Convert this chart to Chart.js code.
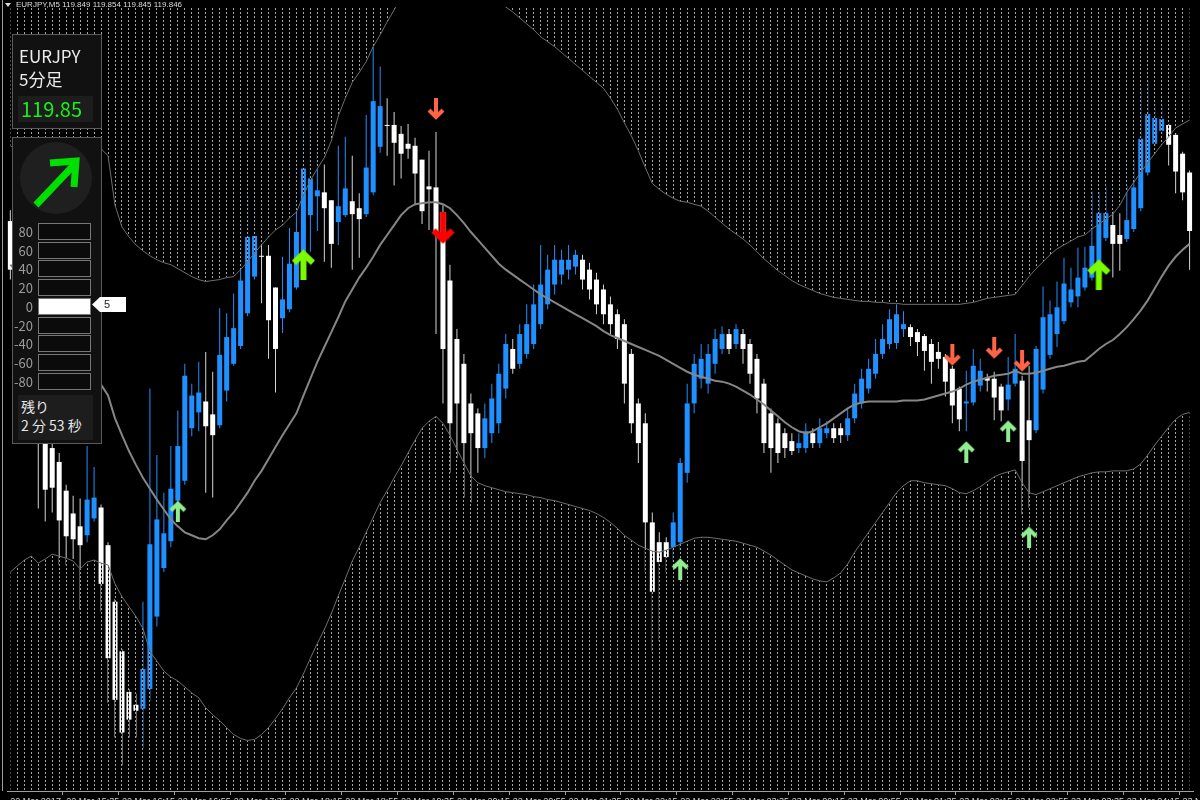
<!DOCTYPE html>
<html>
<head>
<meta charset="utf-8">
<script src="https://cdn.jsdelivr.net/npm/chart.js@4.4.1/dist/chart.umd.min.js"></script>
<style>
body { margin:0; background:#000; overflow:hidden; font-family:'Noto Sans CJK JP', sans-serif; }
#wrap { position:absolute; left:0; top:0; width:1200px; height:808px; }
.abs { position:absolute; }
.frame { left:2px; top:0; width:1px; height:791px; background:#9c9c9c; }
#head { left:16px; top:0; color:#dcdcdc; font:8px/10px 'Liberation Sans', sans-serif; white-space:pre; }
.tri { left:5px; top:3px; width:0; height:0; border-left:3px solid transparent; border-right:3px solid transparent; border-top:4px solid #dcdcdc; }
.box { background:#111; border:1px solid #5a5a5a; box-sizing:border-box; }
.row { left:38px; width:53px; height:17px; border:1px solid #777; box-sizing:border-box; background:#0b0b0b; }
.lbl { left:0; width:33px; text-align:right; font-size:13px; line-height:17px; color:#9b9b9b; }
</style>
</head>
<body>
<div id="wrap"><canvas id="c"></canvas></div>
<div class="abs frame"></div>
<div class="abs tri"></div>
<div class="abs" id="head">EURJPY,M5 119.849 119.854 119.845 119.846</div>

<div class="abs box" style="left:12px;top:34px;width:90px;height:95px;"></div>
<div class="abs" style="left:19px;top:44px;font-size:17px;line-height:23px;color:#ececec;">EURJPY<br>5分足</div>
<div class="abs" style="left:18px;top:96px;width:75px;height:26px;background:#1d1d1d;"></div>
<div class="abs" style="left:21px;top:95px;font-size:20px;line-height:27px;color:#18f018;">119.85</div>

<div class="abs box" style="left:12px;top:137px;width:90px;height:307px;"></div>
<div class="abs" style="left:20px;top:142px;width:72px;height:72px;border-radius:50%;background:#1f1f1f;"></div>
<svg class="abs" style="left:0;top:0" width="130" height="450">
  <line x1="36" y1="205" x2="73" y2="166" stroke="#00e000" stroke-width="7"/>
  <polyline points="50,163 76,161 74,187" fill="none" stroke="#00e000" stroke-width="7" stroke-linejoin="miter"/>
</svg>
<div id="gauge"></div>
<div class="abs" style="left:92px;top:297px;width:34px;height:15px;background:#fff;clip-path:polygon(0 50%,8px 0,100% 0,100% 100%,8px 100%);"></div>
<div class="abs" style="left:104px;top:297px;font:11px/15px 'Liberation Sans',sans-serif;color:#222;">5</div>
<div class="abs" style="left:18px;top:395px;width:75px;height:45px;background:#1d1d1d;"></div>
<div class="abs" style="left:21px;top:397px;font-size:14px;line-height:19px;color:#e6e6e6;">残り<br>2 分 53 秒</div>

<script>
// time labels every 8 bars (40 min)
const tickLabels = ['22 Mar 2017','22 Mar 15:35','22 Mar 16:15','22 Mar 16:55','22 Mar 17:35','22 Mar 18:15','22 Mar 18:55',
  '22 Mar 19:35','22 Mar 20:15','22 Mar 20:55','22 Mar 21:35','22 Mar 22:15','22 Mar 22:55','22 Mar 23:35',
  '23 Mar 00:15','23 Mar 00:55','23 Mar 01:35','23 Mar 02:15','23 Mar 02:55','23 Mar 03:35','23 Mar 04:15','23 Mar 04:55'];

const open = [119.856,119.819,119.782,119.727,119.677,119.642,119.627,119.613,119.584,119.561,
119.548,119.539,119.556,119.567,119.529,119.472,119.422,119.381,119.368,119.364,
119.384,119.457,119.506,119.533,119.574,119.594,119.647,119.663,119.674,119.661,
119.650,119.685,119.712,119.730,119.763,119.800,119.821,119.821,119.789,119.758,
119.767,119.789,119.825,119.862,119.881,119.885,119.877,119.855,119.862,119.876,
119.869,119.863,119.885,119.931,119.953,119.953,119.944,119.934,119.932,119.918,
119.891,119.890,119.865,119.796,119.737,119.712,119.672,119.662,119.627,119.642,
119.652,119.687,119.727,119.712,119.722,119.732,119.752,119.772,119.792,119.802,
119.807,119.810,119.817,119.807,119.797,119.787,119.772,119.762,119.752,119.722,
119.672,119.652,119.552,119.532,119.532,119.527,119.532,119.602,119.672,119.697,
119.692,119.712,119.727,119.742,119.732,119.742,119.732,119.717,119.692,119.662,
119.652,119.642,119.634,119.627,119.627,119.642,119.632,119.642,119.647,119.647,
119.640,119.657,119.672,119.687,119.702,119.722,119.732,119.733,119.747,119.749,
119.744,119.740,119.732,119.724,119.719,119.707,119.687,119.672,119.673,119.690,
119.698,119.697,119.689,119.676,119.692,119.695,119.655,119.645,119.686,119.721,
119.742,119.755,119.774,119.780,119.789,119.799,119.802,119.839,119.852,119.842,
119.838,119.848,119.869,119.905,119.934,119.947,119.953,119.943,119.924,119.905];

const high = [119.867,119.827,119.790,119.734,119.684,119.647,119.634,119.622,119.590,119.579,
119.576,119.629,119.608,119.570,119.532,119.475,119.424,119.384,119.379,119.472,
119.687,119.620,119.582,119.629,119.665,119.712,119.692,119.714,119.724,119.704,
119.768,119.763,119.783,119.858,119.881,119.875,119.877,119.832,119.789,119.820,
119.849,119.910,119.962,119.961,119.925,119.913,119.877,119.932,119.941,119.922,
119.884,119.963,120.032,120.012,119.980,119.966,119.952,119.954,119.940,119.918,
119.927,119.946,119.872,119.812,119.747,119.722,119.682,119.667,119.672,119.692,
119.712,119.742,119.737,119.752,119.772,119.792,119.832,119.822,119.832,119.827,
119.832,119.827,119.822,119.814,119.804,119.792,119.780,119.767,119.757,119.727,
119.677,119.662,119.562,119.542,119.537,119.562,119.617,119.692,119.722,119.732,
119.732,119.747,119.750,119.747,119.752,119.747,119.737,119.722,119.697,119.667,
119.657,119.647,119.642,119.642,119.652,119.647,119.657,119.654,119.652,119.652,
119.667,119.692,119.707,119.717,119.737,119.752,119.767,119.772,119.765,119.752,
119.747,119.742,119.737,119.734,119.722,119.710,119.689,119.705,119.727,119.717,
119.702,119.704,119.692,119.719,119.742,119.700,119.710,119.730,119.790,119.776,
119.795,119.819,119.809,119.829,119.830,119.886,119.885,119.891,119.866,119.864,
119.892,119.919,119.990,119.997,119.974,119.973,119.955,119.945,119.926,119.907];

const low = [119.797,119.772,119.712,119.662,119.566,119.553,119.562,119.509,119.509,119.515,
119.464,119.532,119.553,119.462,119.370,119.335,119.307,119.335,119.335,119.324,
119.372,119.447,119.502,119.527,119.567,119.590,119.639,119.644,119.582,119.577,
119.647,119.674,119.710,119.727,119.760,119.797,119.773,119.717,119.683,119.743,
119.764,119.787,119.822,119.825,119.846,119.815,119.809,119.832,119.860,119.807,
119.819,119.860,119.882,119.925,119.922,119.892,119.899,119.919,119.872,119.853,
119.847,119.742,119.672,119.602,119.617,119.577,119.572,119.602,119.617,119.632,
119.642,119.677,119.702,119.707,119.717,119.727,119.747,119.767,119.782,119.792,
119.797,119.802,119.787,119.777,119.762,119.752,119.742,119.727,119.672,119.642,
119.612,119.502,119.422,119.432,119.502,119.512,119.524,119.592,119.662,119.687,
119.682,119.702,119.722,119.722,119.727,119.712,119.692,119.662,119.622,119.602,
119.612,119.617,119.620,119.622,119.622,119.627,119.627,119.637,119.632,119.632,
119.634,119.652,119.667,119.682,119.697,119.717,119.727,119.727,119.739,119.730,
119.720,119.705,119.692,119.707,119.679,119.652,119.644,119.644,119.670,119.684,
119.684,119.655,119.654,119.665,119.689,119.560,119.567,119.642,119.682,119.717,
119.729,119.752,119.769,119.769,119.786,119.796,119.799,119.836,119.799,119.806,
119.835,119.845,119.866,119.902,119.931,119.942,119.912,119.884,119.877,119.807];

const close = [119.807,119.782,119.722,119.672,119.632,119.585,119.587,119.554,119.538,119.535,
119.529,119.575,119.577,119.490,119.415,119.373,119.340,119.353,119.362,119.404,
119.530,119.555,119.541,119.586,119.629,119.700,119.680,119.683,119.649,119.640,
119.721,119.739,119.748,119.796,119.840,119.841,119.820,119.756,119.727,119.777,
119.813,119.845,119.909,119.899,119.887,119.869,119.833,119.871,119.889,119.863,
119.858,119.910,119.977,119.972,119.952,119.935,119.924,119.929,119.904,119.866,
119.888,119.844,119.727,119.652,119.672,119.632,119.642,119.627,119.657,119.677,
119.702,119.732,119.707,119.742,119.752,119.772,119.792,119.807,119.817,119.817,
119.817,119.822,119.797,119.787,119.772,119.762,119.752,119.737,119.692,119.652,
119.632,119.552,119.482,119.512,119.517,119.552,119.612,119.672,119.712,119.717,
119.722,119.737,119.742,119.727,119.747,119.727,119.702,119.677,119.632,119.627,
119.622,119.627,119.624,119.632,119.644,119.632,119.647,119.647,119.637,119.640,
119.657,119.682,119.697,119.707,119.722,119.737,119.757,119.762,119.752,119.739,
119.734,119.725,119.714,119.717,119.694,119.670,119.656,119.674,119.710,119.705,
119.695,119.678,119.665,119.691,119.707,119.614,119.635,119.727,119.759,119.762,
119.769,119.793,119.787,119.799,119.809,119.831,119.864,119.864,119.833,119.833,
119.857,119.890,119.939,119.964,119.960,119.959,119.933,119.906,119.885,119.846];

// Bollinger bands
const bbUpper = [119.932,119.927,119.927,119.927,119.927,119.927,119.928,119.928,119.928,119.928,
119.928,119.928,119.929,119.929,119.922,119.872,119.850,119.840,119.832,119.826,
119.821,119.817,119.814,119.812,119.808,119.804,119.800,119.797,119.795,119.796,
119.797,119.799,119.800,119.807,119.815,119.824,119.832,119.840,119.847,119.852,
119.859,119.865,119.882,119.897,119.909,119.920,119.937,119.962,119.980,119.996,
120.006,120.017,120.032,120.044,120.057,120.069,120.082,120.088,120.094,120.100,
120.105,120.110,120.112,120.112,120.110,120.106,120.102,120.096,120.089,120.084,
120.078,120.072,120.067,120.061,120.055,120.049,120.042,120.037,120.032,120.026,
120.020,120.014,120.008,120.002,119.996,119.990,119.980,119.969,119.955,119.942,
119.927,119.910,119.894,119.888,119.883,119.879,119.876,119.875,119.873,119.871,
119.866,119.860,119.854,119.848,119.843,119.838,119.832,119.825,119.818,119.812,
119.806,119.801,119.796,119.792,119.789,119.786,119.783,119.781,119.779,119.778,
119.777,119.776,119.775,119.775,119.774,119.774,119.773,119.773,119.772,119.772,
119.772,119.772,119.772,119.772,119.772,119.772,119.772,119.773,119.774,119.776,
119.778,119.779,119.780,119.781,119.782,119.791,119.800,119.808,119.815,119.822,
119.828,119.832,119.836,119.840,119.842,119.848,119.853,119.858,119.863,119.872,
119.885,119.895,119.905,119.915,119.924,119.933,119.941,119.950,119.954,119.958];

const bbMiddle = [119.812,119.804,119.795,119.786,119.777,119.767,119.758,119.749,119.739,119.730,
119.720,119.711,119.701,119.691,119.680,119.657,119.640,119.624,119.610,119.597,
119.586,119.575,119.565,119.555,119.548,119.542,119.539,119.536,119.535,119.539,
119.545,119.554,119.562,119.572,119.582,119.594,119.604,119.616,119.628,119.640,
119.651,119.662,119.680,119.697,119.714,119.729,119.744,119.759,119.775,119.787,
119.799,119.809,119.820,119.832,119.842,119.852,119.862,119.869,119.873,119.874,
119.875,119.875,119.873,119.869,119.862,119.854,119.845,119.837,119.829,119.821,
119.813,119.807,119.802,119.797,119.792,119.787,119.782,119.778,119.774,119.770,
119.766,119.762,119.758,119.754,119.750,119.745,119.741,119.738,119.735,119.732,
119.729,119.726,119.723,119.720,119.716,119.712,119.708,119.704,119.701,119.699,
119.697,119.695,119.694,119.692,119.689,119.685,119.681,119.676,119.671,119.665,
119.659,119.653,119.648,119.644,119.642,119.644,119.648,119.652,119.657,119.662,
119.667,119.671,119.673,119.674,119.674,119.674,119.674,119.674,119.675,119.675,
119.675,119.676,119.678,119.680,119.682,119.684,119.687,119.691,119.694,119.696,
119.698,119.700,119.701,119.702,119.705,119.702,119.702,119.703,119.705,119.707,
119.709,119.710,119.712,119.714,119.715,119.721,119.727,119.732,119.736,119.742,
119.749,119.757,119.766,119.776,119.788,119.800,119.811,119.820,119.827,119.833];

const bbLower = [119.502,119.508,119.514,119.518,119.511,119.515,119.520,119.518,119.516,119.513,
119.505,119.512,119.514,119.511,119.509,119.490,119.477,119.467,119.457,119.445,
119.422,119.412,119.402,119.396,119.392,119.386,119.380,119.375,119.365,119.358,
119.352,119.345,119.338,119.334,119.332,119.333,119.338,119.345,119.354,119.364,
119.375,119.385,119.399,119.415,119.430,119.444,119.460,119.478,119.495,119.513,
119.527,119.542,119.557,119.572,119.584,119.597,119.609,119.622,119.635,119.647,
119.654,119.659,119.652,119.640,119.626,119.612,119.599,119.592,119.589,119.587,
119.585,119.583,119.582,119.581,119.580,119.578,119.577,119.575,119.574,119.572,
119.570,119.568,119.566,119.564,119.561,119.557,119.552,119.546,119.539,119.534,
119.529,119.526,119.523,119.522,119.524,119.527,119.530,119.533,119.536,119.537,
119.537,119.536,119.535,119.534,119.533,119.531,119.529,119.527,119.523,119.519,
119.514,119.509,119.504,119.501,119.498,119.495,119.493,119.492,119.496,119.501,
119.510,119.522,119.532,119.542,119.552,119.562,119.572,119.582,119.589,119.594,
119.594,119.592,119.591,119.590,119.589,119.586,119.582,119.581,119.584,119.588,
119.593,119.598,119.601,119.603,119.605,119.592,119.582,119.580,119.583,119.586,
119.589,119.592,119.595,119.598,119.600,119.602,119.603,119.603,119.604,119.604,
119.604,119.606,119.611,119.620,119.630,119.639,119.648,119.656,119.661,119.663];

// signal arrows: bar index and price level
const sellSmallBars = [61, 135, 141, 145];
const sellSmallPrice = [119.969, 119.721, 119.728, 119.715];
const sellBigBars = [62];
const sellBigPrice = [119.849];
const buySmallBars = [24, 96, 137, 143, 146];
const buySmallPrice = [119.563, 119.505, 119.623, 119.644, 119.537];
const buyBigBars = [42, 156];
const buyBigPrice = [119.812, 119.802];

// gauge panel rows
const gaugeLevels = [80, 60, 40, 20, 0, -20, -40, -60, -80];
const gaugeValue = 5;
const g = document.getElementById('gauge');
gaugeLevels.forEach((lv, k) => {
  const top = 223 + k * 18.7;
  const r = document.createElement('div');
  r.className = 'abs row';
  r.style.top = top + 'px';
  if (gaugeValue >= lv && gaugeValue < lv + 20) r.style.background = '#fff';
  g.appendChild(r);
  const t = document.createElement('div');
  t.className = 'abs lbl';
  t.style.top = top + 'px';
  t.textContent = lv;
  g.appendChild(t);
});

function arrowImg(color, w, h, lw, up) {
  const c = document.createElement('canvas');
  c.width = w; c.height = h;
  const x = c.getContext('2d');
  if (!up) { x.translate(0, h); x.scale(1, -1); }
  x.fillStyle = color;
  x.strokeStyle = color;
  x.lineWidth = lw;
  x.lineJoin = 'miter';
  x.fillRect(w / 2 - lw / 2, lw, lw, h - lw);
  x.beginPath();
  x.moveTo(lw / 2, w / 2 + 1);
  x.lineTo(w / 2, lw * 0.75);
  x.lineTo(w - lw / 2, w / 2 + 1);
  x.stroke();
  return c;
}

const pts = (bars, prices) => bars.map((b, i) => ({x: b, y: prices[i]}));
const arrowSet = (bars, prices, img) => ({
  type: 'line', data: pts(bars, prices), showLine: false,
  pointStyle: img, pointRadius: 6, order: 0
});

const isUp = close.map((c, i) => c >= open[i]);
const line = arr => arr.map((v, i) => ({x: i, y: v}));

const chart = new Chart(document.getElementById('c'), {
  type: 'bar',
  data: {
    datasets: [
      { type: 'line', data: line(bbUpper), borderColor: '#6e6e6e', borderWidth: 1, pointRadius: 0,
        fill: 'end', backgroundColor: 'rgba(0,0,0,0)', order: 2 },
      { type: 'line', data: line(bbMiddle), borderColor: '#868686', borderWidth: 2, pointRadius: 0, fill: false, order: 2 },
      { type: 'line', data: line(bbLower), borderColor: '#6e6e6e', borderWidth: 1, pointRadius: 0,
        fill: 'start', backgroundColor: 'rgba(0,0,0,0)', order: 2 },
      { data: low.map((v, i) => ({x: i, y: [v, high[i]]})),
        backgroundColor: isUp.map(u => u ? '#1e90ff' : '#d4d4d4'),
        maxBarThickness: 1, grouped: false, order: 6 },
      { data: open.map((v, i) => ({x: i, y: [v, close[i]]})),
        backgroundColor: isUp.map(u => u ? '#1e90ff' : '#ffffff'),
        maxBarThickness: 5, minBarLength: 1, grouped: false, order: 5 },
      arrowSet(sellSmallBars, sellSmallPrice, arrowImg('#ff6446', 18, 22, 4, false)),
      arrowSet(sellBigBars, sellBigPrice, arrowImg('#ff0000', 25, 32, 6, false)),
      arrowSet(buySmallBars, buySmallPrice, arrowImg('#90ee90', 18, 22, 4, true)),
      arrowSet(buyBigBars, buyBigPrice, arrowImg('#7cfc00', 25, 31, 6, true))
    ]
  },
  options: {
    animation: false,
    responsive: true,
    maintainAspectRatio: false,
    events: [],
    layout: { padding: 0 },
    plugins: {
      legend: { display: false },
      tooltip: { enabled: false }
    },
    scales: {
      x: {
        type: 'linear', min: -0.48, max: 169.49, offset: false,
        afterBuildTicks: s => { s.ticks = open.map((_, i) => ({value: i})); },
        afterFit: s => { s.height = 17; },
        ticks: {
          autoSkip: false, maxRotation: 0, minRotation: 0, align: 'start', padding: 1,
          color: '#d2d2d2', font: { family: 'Liberation Sans', size: 9 },
          callback: v => (v % 8 === 0 ? tickLabels[v / 8] : '')
        },
        grid: {
          drawOnChartArea: false, drawTicks: true, tickLength: 4, tickBorderDash: [],
          tickColor: c => (c.tick && c.tick.value % 8 === 0 ? '#a0a0a0' : 'rgba(0,0,0,0)')
        },
        border: { display: true, color: '#a0a0a0', width: 1 }
      },
      y: { min: 119.281, max: 120.072, display: false }
    }
  }
});

// dotted histogram outside the bands: one dashed column per bar, placed by the x scale
const xs = chart.scales.x;
const pc = document.createElement('canvas');
pc.width = chart.width; pc.height = chart.height;
const pg = pc.getContext('2d');
open.forEach((_, i) => {
  const px = Math.round(xs.getPixelForValue(i) - 0.5);
  for (let y = 0; y < pc.height; y += 4) {
    pg.fillStyle = '#a4a4a4'; pg.fillRect(px, y, 1, 2);
    pg.fillStyle = '#000'; pg.fillRect(px, y + 2, 1, 2);
  }
});
const hatch = pg.createPattern(pc, 'no-repeat');
chart.data.datasets[0].backgroundColor = hatch;
chart.data.datasets[2].backgroundColor = hatch;
chart.update();
</script>
</body>
</html>
